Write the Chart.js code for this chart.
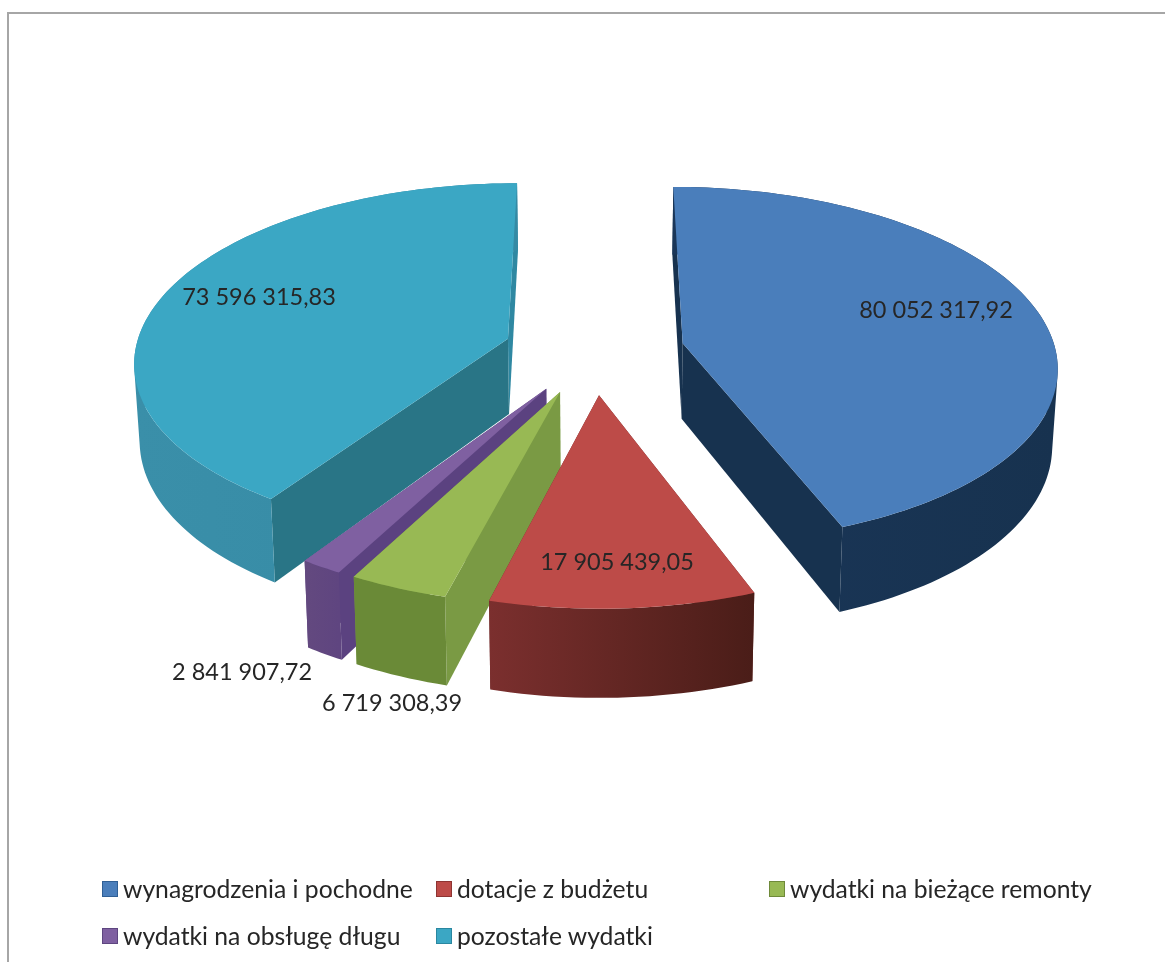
<!DOCTYPE html>
<html lang="pl">
<head>
<meta charset="utf-8">
<title>Wydatki</title>
<script src="https://cdn.jsdelivr.net/npm/chart.js@4"></script>
<style>
  html, body { margin: 0; padding: 0; background: #fff; overflow: hidden; }
  #wrap { position: relative; width: 1165px; height: 962px; }
  #frame { position: absolute; left: 7px; top: 12px; right: 0; bottom: 0; border-left: 2px solid #a6a6a6; border-top: 2px solid #a6a6a6; }
  canvas { position: absolute; left: 0; top: 0; }
  .lg { position: absolute; font: 24.7px Lato, sans-serif; color: #262626; white-space: nowrap; line-height: 30px; }
  .lg i { position: absolute; top: 7px; width: 14px; height: 14px; border: 1px solid; }
</style>
</head>
<body>
<div id="wrap">
  <div id="frame"></div>
  <canvas id="pie" width="1165" height="962"></canvas>
</div>
<script>
const categories = ['wynagrodzenia i pochodne', 'dotacje z budżetu', 'wydatki na bieżące remonty', 'wydatki na obsługę długu', 'pozostałe wydatki'];
const values = [80052317.92, 17905439.05, 6719308.39, 2841907.72, 73596315.83];

const topColors = ['#4a7ebb', '#bd4b48', '#98b954', '#7f60a1', '#3ba7c4'];
const faceColors = ['#17324f', '#6b2a29', '#7a9a44', '#5b4280', '#297586'];
const endFaceColors = ['#17324f', '#6b2a29', '#7a9a44', '#5b4280', '#2f88a2'];
const rimLeft = ['#1a3658', '#7b2f2e', '#6a8a37', '#63497f', '#3a8fa9'];
const rimRight = ['#17324f', '#4a1d18', '#6a8a37', '#5f4580', '#358aa4'];
const legendEdge = ['#2f5f95', '#8e3432', '#6f8a3a', '#5e4680', '#2a87a0'];

// where the texts sit
const labelPos = [[936, 310], [617, 562], [392, 703], [242, 672], [259, 297]];
const legendPos = [[102, 889], [436, 889], [769, 889], [102, 936], [436, 936]];

// view of the tilted pie, fitted on the picture
const view = { cx: 594, cy: 351, a: 373, b: 176.7, k: 0.119, depth: 76, shrink: 0.988, explode: 0.243 };

const fmt = n => n.toFixed(2).replace('.', ',').replace(/\B(?=(\d{3})+(?!\d))/g, ' ');

function project(u, v, low){
  const w = 1 - view.k * v;
  const sx = low ? view.shrink : 1;
  return [view.cx + view.a * u / w * sx, view.cy + (view.b * v + (low ? view.depth : 0)) / w];
}

function tracePoly(ctx, pts){
  pts.forEach((p, i) => i ? ctx.lineTo(p[0], p[1]) : ctx.moveTo(p[0], p[1]));
  ctx.closePath();
}

function poly(ctx, pts, fill){
  ctx.beginPath();
  tracePoly(ctx, pts);
  ctx.fillStyle = fill;
  ctx.fill();
}

function area(pts){
  let s = 0;
  pts.forEach((p, i) => { const q = pts[(i + 1) % pts.length]; s += p[0] * q[1] - q[0] * p[1]; });
  return s;
}

// the library works out the angles, this plugin only paints them in 3D
const pie3d = {
  id: 'pie3d',
  beforeDatasetsDraw(chart){
    const ctx = chart.ctx;
    const arcs = chart.getDatasetMeta(0).data;
    const order = [4, 0, 3, 2, 1];
    order.forEach(i => {
      const arc = arcs[i];
      const a0 = arc.startAngle + Math.PI / 2, a1 = arc.endAngle + Math.PI / 2;
      const mid = (a0 + a1) / 2;
      const ox = Math.sin(mid) * view.explode, oy = -Math.cos(mid) * view.explode;
      const steps = Math.max(8, Math.ceil((a1 - a0) * 40));
      const rim = [];
      for(let s = 0; s <= steps; s++){
        const t = a0 + (a1 - a0) * s / steps;
        rim.push([ox + Math.sin(t), oy - Math.cos(t)]);
      }
      const up = rim.map(p => project(p[0], p[1], false));
      const down = rim.map(p => project(p[0], p[1], true));
      const apexUp = project(ox, oy, false), apexDown = project(ox, oy, true);
      // cut faces
      poly(ctx, [apexUp, up[steps], down[steps], apexDown], endFaceColors[i]);
      poly(ctx, [apexUp, up[0], down[0], apexDown], faceColors[i]);
      // outer wall: one path, all quads turned the same way so nothing cancels at the fold
      const xs = up.map(p => p[0]);
      const g = ctx.createLinearGradient(Math.min(...xs), 0, Math.max(...xs), 0);
      g.addColorStop(0, rimLeft[i]);
      g.addColorStop(1, rimRight[i]);
      ctx.beginPath();
      for(let s = 0; s < steps; s++){
        const q = [up[s], up[s + 1], down[s + 1], down[s]];
        tracePoly(ctx, area(q) < 0 ? q.reverse() : q);
      }
      ctx.fillStyle = g;
      ctx.fill();
      // top
      poly(ctx, [apexUp].concat(up), topColors[i]);
    });
    return false;
  },
  afterDraw(chart){
    const ctx = chart.ctx;
    ctx.save();
    ctx.font = '23.5px Lato, sans-serif';
    ctx.fillStyle = '#262626';
    ctx.textAlign = 'center';
    ctx.textBaseline = 'middle';
    values.forEach((v, i) => ctx.fillText(fmt(v), labelPos[i][0], labelPos[i][1]));
    ctx.restore();
  }
};

new Chart(document.getElementById('pie'), {
  type: 'pie',
  data: { labels: categories, datasets: [{ data: values, backgroundColor: topColors, borderWidth: 0 }] },
  options: {
    responsive: false,
    animation: false,
    plugins: { legend: { display: false }, tooltip: { enabled: false } }
  },
  plugins: [pie3d]
});

// legend keeps the columns of the original, Chart.js would centre the rows
const wrap = document.getElementById('wrap');
categories.forEach((name, i) => {
  const d = document.createElement('div');
  d.className = 'lg';
  d.style.left = legendPos[i][0] + 'px';
  d.style.top = (legendPos[i][1] - 15) + 'px';
  d.style.paddingLeft = '21px';
  d.textContent = name;
  const sw = document.createElement('i');
  sw.style.left = '0';
  sw.style.background = topColors[i];
  sw.style.borderColor = legendEdge[i];
  d.appendChild(sw);
  wrap.appendChild(d);
});
</script>
</body>
</html>
